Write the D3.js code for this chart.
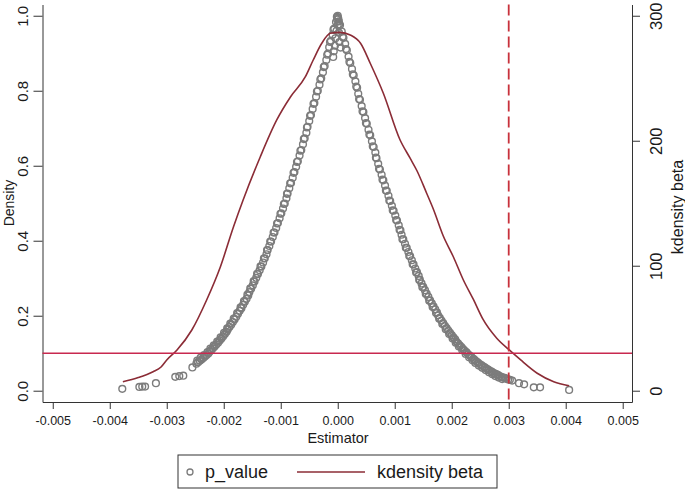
<!DOCTYPE html>
<html>
<head>
<meta charset="utf-8">
<script src="https://cdn.jsdelivr.net/npm/d3@7"></script>
<style>
  body { margin: 0; background: #fff; }
  svg { display: block; font-family: "Liberation Sans", Arial, sans-serif; }
</style>
</head>
<body>
<div id="chart"></div>
<script>
// DATA
// p_value scatter, [estimator, p value]
const pValueData = [
  [0.00000, 1.000], [-0.00003, 0.983], [-0.00006, 0.966], [-0.00009, 0.949], [-0.00012, 0.933],
  [-0.00015, 0.916], [-0.00017, 0.899], [-0.00020, 0.882], [-0.00023, 0.866], [-0.00026, 0.849],
  [-0.00029, 0.833], [-0.00032, 0.816], [-0.00035, 0.800], [-0.00038, 0.784], [-0.00041, 0.767],
  [-0.00044, 0.751], [-0.00047, 0.735], [-0.00050, 0.719], [-0.00053, 0.704], [-0.00055, 0.688],
  [-0.00058, 0.673], [-0.00061, 0.657], [-0.00064, 0.642], [-0.00067, 0.627], [-0.00070, 0.612],
  [-0.00073, 0.597], [-0.00076, 0.583], [-0.00079, 0.568], [-0.00082, 0.554], [-0.00085, 0.540],
  [-0.00088, 0.526], [-0.00090, 0.513], [-0.00093, 0.499], [-0.00096, 0.486], [-0.00099, 0.473],
  [-0.00102, 0.460], [-0.00105, 0.447], [-0.00108, 0.434], [-0.00111, 0.422], [-0.00114, 0.410],
  [-0.00117, 0.398], [-0.00120, 0.386], [-0.00123, 0.375], [-0.00125, 0.364], [-0.00128, 0.353],
  [-0.00131, 0.342], [-0.00134, 0.331], [-0.00137, 0.321], [-0.00140, 0.311], [-0.00143, 0.301],
  [-0.00146, 0.291], [-0.00149, 0.281], [-0.00152, 0.272], [-0.00155, 0.263], [-0.00157, 0.254],
  [-0.00160, 0.245], [-0.00163, 0.237], [-0.00166, 0.229], [-0.00169, 0.220], [-0.00172, 0.213],
  [-0.00175, 0.205], [-0.00178, 0.197], [-0.00181, 0.190], [-0.00184, 0.183], [-0.00187, 0.176],
  [-0.00190, 0.170], [-0.00193, 0.163], [-0.00195, 0.157], [-0.00198, 0.151], [-0.00201, 0.145],
  [-0.00204, 0.139], [-0.00207, 0.134], [-0.00210, 0.128], [-0.00213, 0.123], [-0.00216, 0.118],
  [-0.00219, 0.113], [-0.00222, 0.108], [-0.00225, 0.104], [-0.00227, 0.099], [-0.00230, 0.095],
  [-0.00233, 0.091], [-0.00236, 0.087], [-0.00239, 0.083], [-0.00242, 0.080], [-0.00245, 0.076],
  [-0.00248, 0.072], [-0.00255, 0.062], [-0.00271, 0.040], [-0.00278, 0.039], [-0.00285, 0.037],
  [-0.00319, 0.020], [-0.00338, 0.011], [-0.00343, 0.011], [-0.00348, 0.010], [-0.00378, 0.005],
  [-0.000015, 0.997], [-0.000075, 0.963], [-0.000135, 0.930], [-0.000185, 0.896], [-0.000245, 0.863],
  [-0.000305, 0.830], [-0.000365, 0.798], [-0.000425, 0.765], [-0.000485, 0.733], [-0.00054, 0.702],
  [-0.000595, 0.671], [-0.000655, 0.640], [-0.000715, 0.610], [-0.000775, 0.581], [-0.000835, 0.553],
  [-0.00089, 0.525], [-0.000945, 0.498], [-0.001005, 0.472], [-0.001065, 0.446], [-0.001125, 0.422],
  [-0.001185, 0.398], [-0.00124, 0.375], [-0.001295, 0.353], [-0.001355, 0.332], [-0.001415, 0.312],
  [-0.001475, 0.292], [-0.001535, 0.273], [-0.001585, 0.256], [-0.001645, 0.239], [-0.001705, 0.222],
  [-0.001765, 0.207], [-0.001825, 0.192], [-0.001885, 0.179], [-0.00194, 0.166], [-0.001995, 0.154],
  [-0.002055, 0.142], [-0.002115, 0.131], [-0.002175, 0.121], [-0.002235, 0.112], [-0.002285, 0.103],
  [-0.002345, 0.095], [-0.002405, 0.088], [-0.002465, 0.080],
  [-0.00001, 0.990], [0.00000, 0.975], [-0.00002, 0.960], [0.00002, 0.955], [-0.00004, 0.940],
  [0.00003, 0.930], [-0.00005, 0.920], [-0.00007, 0.905], [0.00005, 0.915], [-0.00008, 0.890],
  [0.00000, 0.995], [0.00002, 0.985],
  [0.00001, 0.992], [0.00004, 0.975], [0.00007, 0.958], [0.00010, 0.941], [0.00013, 0.925],
  [0.00016, 0.908], [0.00019, 0.891], [0.00022, 0.874], [0.00025, 0.858], [0.00028, 0.841],
  [0.00031, 0.825], [0.00034, 0.808], [0.00036, 0.792], [0.00039, 0.776], [0.00042, 0.759],
  [0.00045, 0.743], [0.00048, 0.727], [0.00051, 0.712], [0.00054, 0.696], [0.00057, 0.681],
  [0.00060, 0.665], [0.00063, 0.650], [0.00066, 0.635], [0.00068, 0.620], [0.00071, 0.605],
  [0.00074, 0.590], [0.00077, 0.576], [0.00080, 0.561], [0.00083, 0.547], [0.00086, 0.533],
  [0.00089, 0.520], [0.00092, 0.506], [0.00095, 0.493], [0.00098, 0.480], [0.00101, 0.467],
  [0.00104, 0.454], [0.00107, 0.441], [0.00110, 0.428], [0.00112, 0.416], [0.00115, 0.404],
  [0.00118, 0.392], [0.00121, 0.381], [0.00124, 0.370], [0.00127, 0.359], [0.00130, 0.348],
  [0.00133, 0.337], [0.00136, 0.326], [0.00139, 0.316], [0.00142, 0.306], [0.00144, 0.296],
  [0.00147, 0.286], [0.00150, 0.277], [0.00153, 0.268], [0.00156, 0.259], [0.00159, 0.250],
  [0.00162, 0.241], [0.00165, 0.233], [0.00168, 0.225], [0.00171, 0.217], [0.00174, 0.209],
  [0.00176, 0.201], [0.00179, 0.194], [0.00182, 0.187], [0.00185, 0.180], [0.00188, 0.173],
  [0.00191, 0.167], [0.00194, 0.160], [0.00197, 0.154], [0.00200, 0.148], [0.00203, 0.142],
  [0.00206, 0.137], [0.00208, 0.131], [0.00211, 0.126], [0.00214, 0.121], [0.00217, 0.116],
  [0.00220, 0.111], [0.00223, 0.106], [0.00226, 0.102], [0.00229, 0.097], [0.00232, 0.093],
  [0.00235, 0.089], [0.00238, 0.085], [0.00240, 0.082], [0.00243, 0.078], [0.00246, 0.075],
  [0.00249, 0.071], [0.00252, 0.068], [0.00255, 0.065], [0.00258, 0.062], [0.00261, 0.059],
  [0.00264, 0.056], [0.00267, 0.053], [0.00270, 0.051], [0.00272, 0.048], [0.00275, 0.046],
  [0.00278, 0.044], [0.00281, 0.042], [0.00284, 0.039], [0.00287, 0.037], [0.00290, 0.035],
  [0.00293, 0.034], [0.00296, 0.032], [0.00299, 0.030], [0.00302, 0.029], [0.00306, 0.027],
  [0.00318, 0.020], [0.00327, 0.017], [0.00344, 0.009], [0.00355, 0.009], [0.00406, 0.002],
  [0.000025, 0.977], [0.000085, 0.944], [0.000145, 0.911], [0.000205, 0.877], [0.000265, 0.844],
  [0.000325, 0.811], [0.000375, 0.778], [0.000435, 0.745], [0.000495, 0.714], [0.000555, 0.683],
  [0.000615, 0.652], [0.00067, 0.622], [0.000725, 0.592], [0.000785, 0.563], [0.000845, 0.534],
  [0.000905, 0.507], [0.000965, 0.481], [0.001025, 0.455], [0.001085, 0.429], [0.001135, 0.404],
  [0.001195, 0.381], [0.001255, 0.359], [0.001315, 0.337], [0.001375, 0.315], [0.00143, 0.295],
  [0.001485, 0.276], [0.001545, 0.258], [0.001605, 0.240], [0.001665, 0.223], [0.001725, 0.207],
  [0.00178, 0.192], [0.001835, 0.178], [0.001895, 0.164], [0.001955, 0.151], [0.002015, 0.139],
  [0.00207, 0.128], [0.002125, 0.118], [0.002185, 0.108], [0.002245, 0.098], [0.002305, 0.089],
  [0.002365, 0.081], [0.002415, 0.074], [0.002475, 0.067], [0.002535, 0.061], [0.002595, 0.055],
  [0.002655, 0.049], [0.002715, 0.044], [0.002765, 0.039], [0.002825, 0.035], [0.002885, 0.031]
];

// kdensity beta curve, [estimator, density] (right axis)
const kdensityBeta = [
  [-0.00377, 7.2], [-0.00350, 10.5], [-0.00324, 15.2], [-0.00310, 19], [-0.00300, 24.6],
  [-0.00282, 32.6], [-0.00256, 48.6], [-0.00230, 72.6], [-0.00206, 99], [-0.00183, 131],
  [-0.00166, 152.6], [-0.00136, 187], [-0.00107, 216.6], [-0.00083, 235], [-0.00057, 251],
  [-0.00043, 264.6], [-0.00028, 278], [-0.00013, 286], [0.00004, 286.7], [0.00022, 284.6],
  [0.00040, 278], [0.00057, 262], [0.00080, 238], [0.00109, 201], [0.00127, 186],
  [0.00139, 176], [0.00156, 158], [0.00168, 145], [0.00185, 124], [0.00203, 107],
  [0.00220, 89], [0.00238, 73], [0.00255, 57], [0.00279, 42], [0.00300, 33],
  [0.00321, 24.6], [0.00350, 14], [0.00379, 7.2], [0.00406, 4]
];

const xTicks = [-0.005, -0.004, -0.003, -0.002, -0.001, 0, 0.001, 0.002, 0.003, 0.004, 0.005];
const yTicksLeft = [0, 0.2, 0.4, 0.6, 0.8, 1.0];
const yTicksRight = [0, 100, 200, 300];
const pLine = 0.1;           // horizontal reference line (p = 0.1)
const estimatorLine = 0.003; // vertical dashed reference line

// 1: SET GLOBAL VARIABLES
const W = 685, H = 491;
const plot = { left: 42.5, right: 632, top: 4.5, bottom: 402 };
const maroon = "#8b2c36";

const svg = d3.select("#chart")
    .append("svg")
    .attr("width", W)
    .attr("height", H);

// 2: SCALES
const xScale = d3.scaleLinear()
    .domain([-0.00518, 0.005163])
    .range([plot.left, plot.right]);

const yScale = d3.scaleLinear()
    .domain([-0.0301, 1.03])
    .range([plot.bottom, plot.top]);

const yRight = d3.scaleLinear()
    .domain([-0.0301 * 300, 1.03 * 300])
    .range([plot.bottom, plot.top]);

// 3: AXES
const xAxis = svg.append("g")
    .attr("transform", `translate(0,${plot.bottom})`)
    .call(d3.axisBottom(xScale).tickValues(xTicks).tickSize(7).tickSizeOuter(0)
        .tickFormat(d => d.toFixed(3)));
xAxis.selectAll("text")
    .attr("y", 19).attr("dy", "0.35em")
    .style("font-size", "12.5px");

const leftAxis = svg.append("g")
    .attr("transform", `translate(${plot.left},0)`)
    .call(d3.axisLeft(yScale).tickValues(yTicksLeft).tickSize(9).tickSizeOuter(0)
        .tickFormat(d3.format(".1f")));
leftAxis.selectAll("text")
    .attr("transform", "rotate(-90)")
    .attr("x", 0).attr("y", -19.5).attr("dy", "0.35em")
    .style("text-anchor", "middle")
    .style("font-size", "15px");

const rightAxis = svg.append("g")
    .attr("transform", `translate(${plot.right},0)`)
    .call(d3.axisRight(yRight).tickValues(yTicksRight).tickSize(8).tickSizeOuter(0));
rightAxis.selectAll("text")
    .attr("transform", "rotate(-90)")
    .attr("x", 0).attr("y", 24).attr("dy", "0.35em")
    .style("text-anchor", "middle")
    .style("font-size", "16.5px");

svg.selectAll(".domain, .tick line").attr("stroke", "#333");
svg.selectAll(".tick text").attr("fill", "#1a1a1a");

// 4: AXIS TITLES
svg.append("text")
    .attr("x", 338).attr("y", 438).attr("dy", "0.35em")
    .style("text-anchor", "middle").style("font-size", "14.5px").attr("fill", "#1a1a1a")
    .text("Estimator");

svg.append("text")
    .attr("transform", "translate(9,203) rotate(-90)")
    .attr("dy", "0.35em")
    .style("text-anchor", "middle").style("font-size", "14px").attr("fill", "#1a1a1a")
    .text("Density");

svg.append("text")
    .attr("transform", "translate(677,207) rotate(-90)")
    .attr("dy", "0.35em")
    .style("text-anchor", "middle").style("font-size", "16px").attr("fill", "#1a1a1a")
    .text("kdensity beta");

// 5: SCATTER (p_value)
svg.append("g")
    .selectAll("circle")
    .data(pValueData)
    .join("circle")
    .attr("cx", d => xScale(d[0]))
    .attr("cy", d => yScale(d[1]))
    .attr("r", 3.4)
    .attr("fill", "none")
    .attr("stroke", "#7c7c7c")
    .attr("stroke-width", 1.4);

// 6: KDENSITY LINE
const line = d3.line()
    .x(d => xScale(d[0]))
    .y(d => yRight(d[1]))
    .curve(d3.curveMonotoneX);

svg.append("path")
    .datum(kdensityBeta)
    .attr("fill", "none")
    .attr("stroke", maroon)
    .attr("stroke-width", 1.6)
    .attr("d", line);

// 7: REFERENCE LINES
svg.append("line")
    .attr("x1", plot.left).attr("x2", plot.right)
    .attr("y1", yScale(pLine)).attr("y2", yScale(pLine))
    .attr("stroke", "#c8294f")
    .attr("stroke-width", 1.5);

svg.append("line")
    .attr("x1", xScale(estimatorLine)).attr("x2", xScale(estimatorLine))
    .attr("y1", plot.top).attr("y2", plot.bottom)
    .attr("stroke", "#c8323c")
    .attr("stroke-width", 1.8)
    .attr("stroke-dasharray", "11,5");

// 8: LEGEND
const legend = svg.append("g");
legend.append("rect")
    .attr("x", 178).attr("y", 455).attr("width", 319).attr("height", 33)
    .attr("fill", "#fff").attr("stroke", "#333").attr("stroke-width", 1);
legend.append("circle")
    .attr("cx", 190).attr("cy", 472).attr("r", 3)
    .attr("fill", "none").attr("stroke", "#7c7c7c").attr("stroke-width", 1.3);
legend.append("text")
    .attr("x", 205).attr("y", 472).attr("dy", "0.35em")
    .style("font-size", "18px").attr("fill", "#1a1a1a")
    .text("p_value");
legend.append("line")
    .attr("x1", 297).attr("x2", 365).attr("y1", 472).attr("y2", 472)
    .attr("stroke", maroon).attr("stroke-width", 1.6);
legend.append("text")
    .attr("x", 377).attr("y", 472).attr("dy", "0.35em")
    .style("font-size", "18px").attr("fill", "#1a1a1a")
    .text("kdensity beta");
</script>
</body>
</html>
